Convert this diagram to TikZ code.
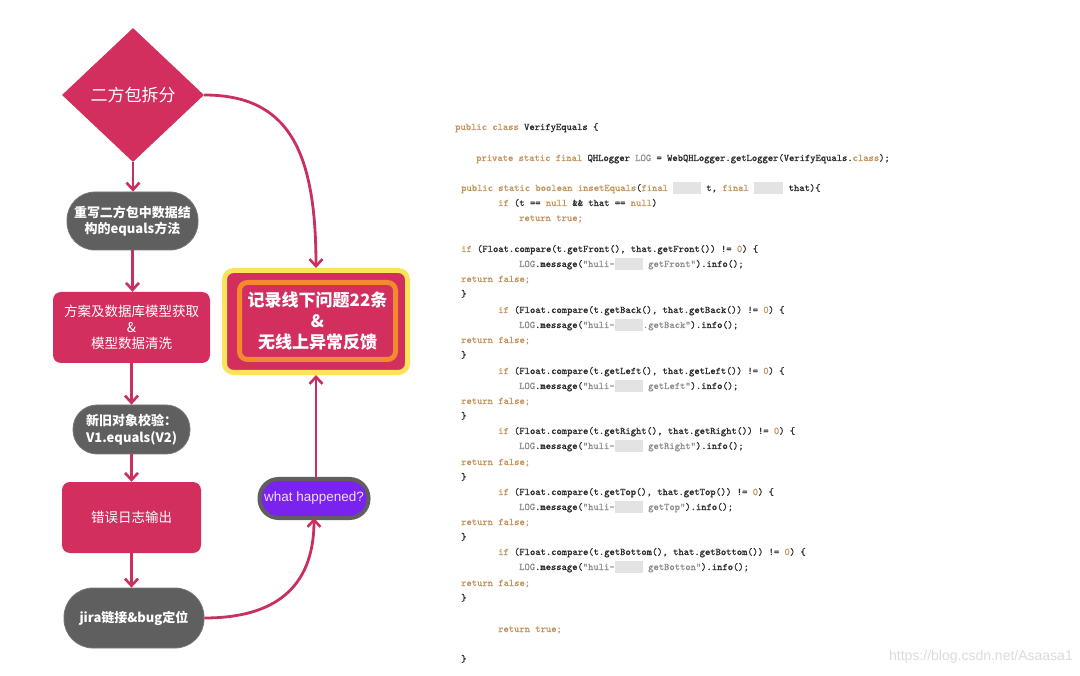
\documentclass[tikz,border=0pt]{standalone}
\usepackage{fontspec}
\setmainfont{Liberation Sans}
\newfontfamily\cjk{Noto Sans CJK SC}
\newfontfamily\codefont[RawFeature={embolden=1.3}]{Latin Modern Mono}
\usetikzlibrary{shapes.geometric,arrows.meta,calc}
\definecolor{crim}{HTML}{D22F5F}
\definecolor{connc}{HTML}{C92F5F}
\definecolor{graynode}{HTML}{5F5F5F}
\definecolor{ylw}{HTML}{FCE45A}
\definecolor{org}{HTML}{F38A2E}
\definecolor{purp}{HTML}{7A22EE}
\definecolor{lav}{HTML}{EEDFFF}
\definecolor{kwc}{HTML}{C4965F}
\definecolor{txc}{HTML}{2E2E2E}
\definecolor{strc}{HTML}{8E8E8E}
\definecolor{blurc}{HTML}{E3E3E3}
\definecolor{wmc}{HTML}{DCDCDC}
\newcommand\kw[1]{\textcolor{kwc}{#1}}
\newcommand\sg[1]{\textcolor{strc}{#1}}
\newcommand\blr[1]{\textcolor{blurc}{\rule[-0.25em]{#1}{1.1em}}}
\begin{document}
\begin{tikzpicture}[x=1pt,y=-1pt,
  conn/.style={draw=connc, line width=2.8pt, -{Straight Barb[length=7pt,width=13pt,line width=2.6pt]}},
  pinkbox/.style={rectangle, rounded corners=8pt, fill=crim, text=white, align=center, inner sep=0pt,
    font=\cjk\fontsize{13.5}{16}\selectfont},
  pill/.style={rectangle, rounded corners=#1, fill=graynode, draw=graynode!85!white, line width=0.8pt, text=white, align=center, inner sep=0pt,
    font=\cjk\bfseries\fontsize{13}{16}\selectfont},
  codeln/.style={anchor=base west, inner sep=0pt, text=txc, font=\codefont\fontsize{10.1}{12}\selectfont}
]
\path[use as bounding box, fill=white] (0,0) rectangle (1080,676);

% ---------- flow chart ----------
\node[diamond, fill=crim, minimum width=142pt, minimum height=134pt, inner sep=0pt, text=white,
  font=\cjk\fontsize{17}{20}\selectfont] (d) at (133,95) {二方包拆分};
\node[pill=28pt, minimum width=131pt, minimum height=58pt] (n1) at (132.5,221) {重写二方包中数据结\\构的equals方法};
\node[pinkbox, minimum width=157pt, minimum height=71pt] (n2) at (131.5,327.5) {方案及数据库模型获取\\\&\\模型数据清洗};
\node[pill=24pt, minimum width=117pt, minimum height=49pt, font=\cjk\bfseries\fontsize{13}{17}\selectfont] (n3) at (131.5,429.5) {新旧对象校验：\\V1.equals(V2)};
\node[pinkbox, minimum width=139pt, minimum height=71pt] (n4) at (131.5,517.5) {错误日志输出};
\node[pill=29pt, minimum width=140pt, minimum height=60pt] (n5) at (134,618) {jira链接\&bug定位};

\node[rectangle, rounded corners=9pt, fill=crim, draw=ylw, line width=5pt, outer sep=0pt,
  minimum width=183pt, minimum height=102pt] (bigout) at (316,321.5) {};
\node[rectangle, rounded corners=8pt, fill=crim, draw=org, line width=5pt, outer sep=0pt,
  minimum width=156pt, minimum height=77pt, text=white, align=center, inner sep=0pt,
  font=\cjk\bfseries\fontsize{17}{21}\selectfont] (big) at (317.5,321) {记录线下问题22条\\\&\\无线上异常反馈};

\node[rectangle, rounded corners=19pt, fill=purp, draw=graynode, line width=4pt, outer sep=0pt,
  minimum width=109pt, minimum height=39pt, inner sep=0pt, text=lav,
  font=\fontsize{13.5}{16}\selectfont] (wh) at (314,498.5) {what happened?};

\draw[conn] (d.south) -- (d.south |- n1.north);
\draw[conn] (n1.south) -- (n1.south |- n2.north);
\draw[conn] (n2.south) -- (n2.south |- n3.north);
\draw[conn] (n3.south) -- (n3.south |- n4.north);
\draw[conn] (n4.south) -- (n4.south |- n5.north);
\draw[conn] (n5.east) .. controls (272,618) and (314,590) .. (wh.south);
\draw[conn, shorten >=2.5pt] (bigout.south |- wh.north) -- (bigout.south);
\draw[conn, shorten >=2.5pt] (d.east) .. controls (288,95) and (316,150) .. (bigout.north);

% ---------- code ----------
\node[codeln] (c1) at (455,130) {\kw{public class} VerifyEquals \{};
\node[codeln] (c2) at (476,161) {\kw{private static final} QHLogger \sg{LOG} = WebQHLogger.getLogger(VerifyEquals.\kw{class});};
\node[codeln] (c3) at (461,191) {\kw{public static boolean} \kw{insetEquals}(\kw{final} \blr{2.75em} t, \kw{final} \blr{2.9em} that)\{};
\node[codeln] (c4) at (498,206) {\kw{if} (t == \kw{null} \&\& that == \kw{null})};
\node[codeln] (c5) at (519,221) {\kw{return true;}};
\node[codeln] (c6) at (461,252) {\kw{if} (Float.compare(t.getFront(), that.getFront()) != \kw{0}) \{};
\node[codeln] (c7) at (519,267) {\sg{LOG}.message(\sg{"huli-\blr{2.8em}\hspace{0.525em}getFront"}).info();};
\node[codeln] (c8) at (461,282) {\kw{return false;}};
\node[codeln] (c9) at (461,297) {\}};
\node[codeln] (c10) at (498,313) {\kw{if} (Float.compare(t.getBack(), that.getBack()) != \kw{0}) \{};
\node[codeln] (c11) at (519,328) {\sg{LOG}.message(\sg{"huli-\blr{2.8em}.getBack"}).info();};
\node[codeln] (c12) at (461,343) {\kw{return false;}};
\node[codeln] (c13) at (461,358) {\}};
\node[codeln] (c14) at (498,374) {\kw{if} (Float.compare(t.getLeft(), that.getLeft()) != \kw{0}) \{};
\node[codeln] (c15) at (519,389) {\sg{LOG}.message(\sg{"huli-\blr{2.8em}\hspace{0.525em}getLeft"}).info();};
\node[codeln] (c16) at (461,404) {\kw{return false;}};
\node[codeln] (c17) at (461,419) {\}};
\node[codeln] (c18) at (498,434) {\kw{if} (Float.compare(t.getRight(), that.getRight()) != \kw{0}) \{};
\node[codeln] (c19) at (519,449) {\sg{LOG}.message(\sg{"huli-\blr{2.8em}\hspace{0.525em}getRight"}).info();};
\node[codeln] (c20) at (461,465) {\kw{return false;}};
\node[codeln] (c21) at (461,480) {\}};
\node[codeln] (c22) at (498,495) {\kw{if} (Float.compare(t.getTop(), that.getTop()) != \kw{0}) \{};
\node[codeln] (c23) at (519,510) {\sg{LOG}.message(\sg{"huli-\blr{2.8em}\hspace{0.525em}getTop"}).info();};
\node[codeln] (c24) at (461,525) {\kw{return false;}};
\node[codeln] (c25) at (461,540) {\}};
\node[codeln] (c26) at (498,555) {\kw{if} (Float.compare(t.getBottom(), that.getBottom()) != \kw{0}) \{};
\node[codeln] (c27) at (519,570) {\sg{LOG}.message(\sg{"huli-\blr{2.8em}\hspace{0.525em}getBotton"}).info();};
\node[codeln] (c28) at (461,586) {\kw{return false;}};
\node[codeln] (c29) at (461,601) {\}};
\node[codeln] (c30) at (498,632) {\kw{return true;}};
\node[codeln] (c31) at (461,662) {\}};

\node[anchor=east, inner sep=0pt, text=wmc, font=\fontsize{14}{16}\selectfont] (wm) at (1073,657) {https://blog.csdn.net/Asaasa1};
\end{tikzpicture}
\end{document}
